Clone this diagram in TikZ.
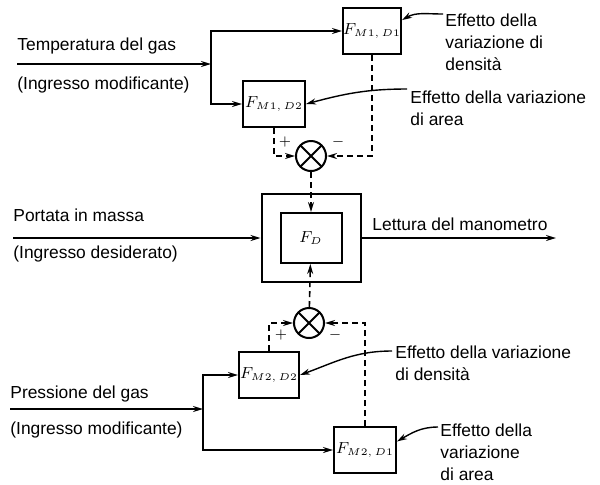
\documentclass[tikz,border=0pt]{standalone}
\usepackage{fontspec}
\setmainfont{Liberation Sans}
\usetikzlibrary{arrows.meta}

\begin{document}
\begin{tikzpicture}[x=0.5pt,y=-0.5pt,
    >={Stealth[length=5pt,width=3pt]},
    blk/.style={draw,line width=1pt,inner sep=0pt,font=\fontsize{7.6}{9}\selectfont},
    lbl/.style={inner sep=0pt,align=left,font=\fontsize{8.7}{11}\selectfont},
    sum/.style={circle,draw,line width=1pt,minimum size=15pt,inner sep=0pt,
        path picture={\draw[line width=1pt]
            (path picture bounding box.north west) -- (path picture bounding box.south east)
            (path picture bounding box.north east) -- (path picture bounding box.south west);}},
    sgn/.style={inner sep=0pt,font=\fontsize{7.5}{8}\selectfont},
    sig/.style={line width=1pt,->},
    dsh/.style={line width=0.8pt,dash pattern=on 3pt off 2pt,->},
    ldr/.style={line width=0.7pt,->}]
    \useasboundingbox (0,0) rectangle (600,484);

    % blocks
    \node[blk,minimum width=29pt,minimum height=23pt] (1) at (372,31) {$F_{M1,\,D1}$};
    \node[blk,minimum width=31pt,minimum height=23pt] (2) at (274,104) {$F_{M1,\,D2}$};
    \node[blk,minimum width=49.5pt,minimum height=44pt] (3) at (311,238) {};
    \node[blk,minimum width=30.5pt,minimum height=25pt] (4) at (311,238) {$F_{D}$};
    \node[blk,minimum width=30pt,minimum height=23pt] (5) at (269,375) {$F_{M2,\,D2}$};
    \node[blk,minimum width=31pt,minimum height=23pt] (6) at (365,450) {$F_{M2,\,D1}$};
    \node[sum] (7) at (311,156) {};
    \node[sum] (8) at (309,323) {};

    % texts
    \node[lbl,anchor=base west] (t1) at (17,50) {Temperatura del gas};
    \node[lbl,anchor=base west] (t2) at (17,89) {(Ingresso modificante)};
    \node[lbl,anchor=base west] (t3) at (13,221) {Portata in massa};
    \node[lbl,anchor=base west] (t4) at (13,258) {(Ingresso desiderato)};
    \node[lbl,anchor=base west] (t5) at (10,398) {Pressione del gas};
    \node[lbl,anchor=base west] (t6) at (10,434) {(Ingresso modificante)};
    \node[lbl,anchor=base west] (t7) at (372,230) {Lettura del manometro};
    \node[lbl,anchor=north west] (e1) at (445,13) {Effetto della\\variazione di\\densità};
    \node[lbl,anchor=north west] (e2) at (410,90) {Effetto della variazione\\di area};
    \node[lbl,anchor=north west] (e3) at (395,345) {Effetto della variazione\\di densità};
    \node[lbl,anchor=north west] (e4) at (440,423) {Effetto della\\variazione\\di area};

    \node[sgn] (p1) at (285,142) {$+$};
    \node[sgn] (m1) at (338,142) {$-$};
    \node[sgn] (p2) at (281,335) {$+$};
    \node[sgn] (m2) at (335,335) {$-$};

    % points
    \coordinate (a) at (17,64);
    \coordinate (j1) at (211,64);
    \coordinate (b) at (13,238);
    \coordinate (c) at (556,238);
    \coordinate (d) at (10,409);
    \coordinate (j2) at (203,409);
    \coordinate (l1) at (443,14);
    \coordinate (l2) at (407,89);
    \coordinate (l3) at (392,351);
    \coordinate (l4) at (438,427);

    % signals
    \draw[sig] (a) -- (j1);
    \draw[sig] (j1) |- (1);
    \draw[sig] (j1) |- (2);
    \draw[sig] (b) -- (3);
    \draw[sig] (3) -- (c);
    \draw[sig] (d) -- (j2);
    \draw[sig] (j2) |- (5);
    \draw[sig] (j2) |- (6);

    % dashed paths
    \draw[dsh] (2.south) |- (7.west);
    \draw[dsh] (1.south) |- (7.east);
    \draw[dsh] (7) -- (4);
    \draw[dsh] (5.north) |- (8.west);
    \draw[dsh] (6.north) |- (8.east);
    \draw[dsh] (8) -- (4);

    % leaders
    \draw[ldr] (l1) to[out=180,in=30] (1.20);
    \draw[ldr] (l2) to[out=180,in=15] (2.east);
    \draw[ldr] (l3) to[out=180,in=20] (5.east);
    \draw[ldr] (l4) to[out=180,in=30] (6.15);
\end{tikzpicture}
\end{document}
